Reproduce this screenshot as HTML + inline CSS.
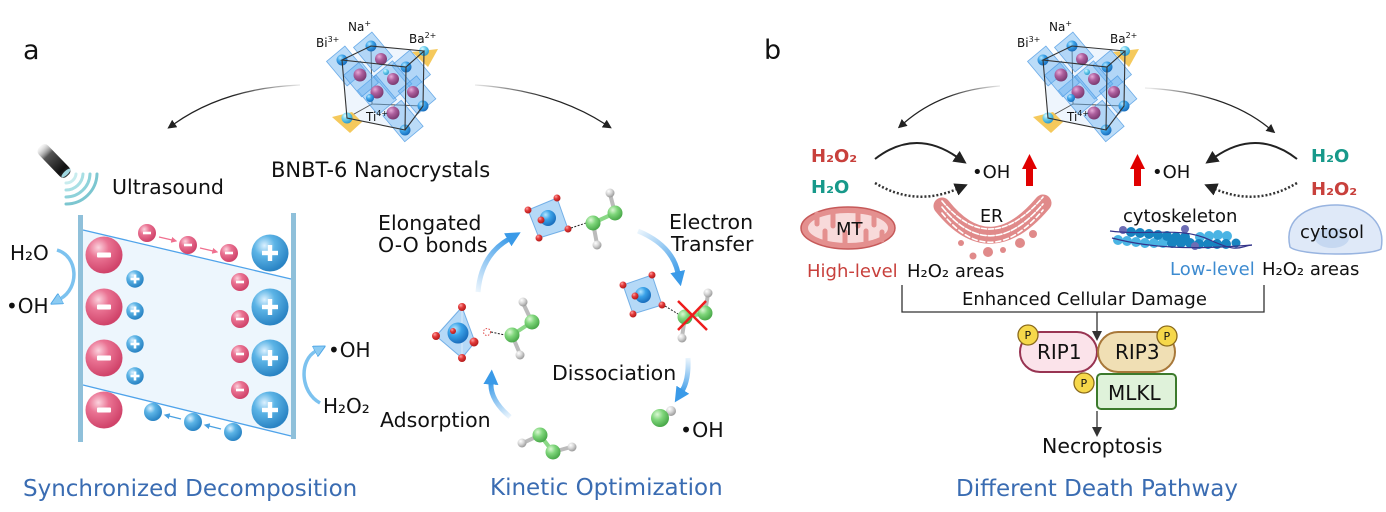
<!DOCTYPE html>
<html><head><meta charset="utf-8">
<style>
html,body{margin:0;padding:0;background:#fff;}
svg{display:block;}
text{font-family:"DejaVu Sans","Liberation Sans",sans-serif;fill:#111;}
</style></head><body>
<svg width="1386" height="512" viewBox="0 0 1386 512" xmlns="http://www.w3.org/2000/svg">
<defs>
 <radialGradient id="gR" cx="35%" cy="30%" r="70%"><stop offset="0" stop-color="#fbd3de"/><stop offset="0.4" stop-color="#ea7393"/><stop offset="1" stop-color="#d0436a"/></radialGradient>
 <radialGradient id="gB" cx="35%" cy="30%" r="70%"><stop offset="0" stop-color="#dcf1ff"/><stop offset="0.4" stop-color="#5cb4e6"/><stop offset="1" stop-color="#2a84c4"/></radialGradient>
 <radialGradient id="gG" cx="35%" cy="30%" r="70%"><stop offset="0" stop-color="#dbf7d4"/><stop offset="0.45" stop-color="#7fd67b"/><stop offset="1" stop-color="#4aa94a"/></radialGradient>
 <radialGradient id="gW" cx="35%" cy="30%" r="70%"><stop offset="0" stop-color="#ffffff"/><stop offset="0.5" stop-color="#d6d6d6"/><stop offset="1" stop-color="#9c9c9c"/></radialGradient>
 <radialGradient id="gO" cx="35%" cy="30%" r="70%"><stop offset="0" stop-color="#ffa0a0"/><stop offset="0.45" stop-color="#e23a3a"/><stop offset="1" stop-color="#b41c1c"/></radialGradient>
 <radialGradient id="gP" cx="35%" cy="30%" r="70%"><stop offset="0" stop-color="#e6aad8"/><stop offset="0.45" stop-color="#ad5f9d"/><stop offset="1" stop-color="#7c3b72"/></radialGradient>
 <radialGradient id="gC" cx="35%" cy="30%" r="70%"><stop offset="0" stop-color="#b4e6ff"/><stop offset="0.45" stop-color="#3aa2e8"/><stop offset="1" stop-color="#1a6fbe"/></radialGradient>
 <radialGradient id="gCy" cx="35%" cy="30%" r="70%"><stop offset="0" stop-color="#e0fbff"/><stop offset="0.45" stop-color="#6fd0ee"/><stop offset="1" stop-color="#2e9ccc"/></radialGradient>
 <linearGradient id="probe" x1="0" y1="0" x2="1" y2="0"><stop offset="0" stop-color="#d8d8d8" stop-opacity="0.2"/><stop offset="0.3" stop-color="#555"/><stop offset="0.8" stop-color="#111"/><stop offset="1" stop-color="#333"/></linearGradient>

 <linearGradient id="la1" gradientUnits="userSpaceOnUse" x1="300" y1="85" x2="170" y2="128"><stop offset="0" stop-color="#222" stop-opacity="0.1"/><stop offset="0.5" stop-color="#222"/></linearGradient>
 <linearGradient id="la2" gradientUnits="userSpaceOnUse" x1="475" y1="85" x2="612" y2="128"><stop offset="0" stop-color="#222" stop-opacity="0.1"/><stop offset="0.5" stop-color="#222"/></linearGradient>
 <linearGradient id="lb1" gradientUnits="userSpaceOnUse" x1="1000" y1="85" x2="898" y2="128"><stop offset="0" stop-color="#222" stop-opacity="0.1"/><stop offset="0.5" stop-color="#222"/></linearGradient>
 <linearGradient id="lb2" gradientUnits="userSpaceOnUse" x1="1150" y1="88" x2="1275" y2="133"><stop offset="0" stop-color="#222" stop-opacity="0.1"/><stop offset="0.5" stop-color="#222"/></linearGradient>

 <linearGradient id="ba1" gradientUnits="userSpaceOnUse" x1="478" y1="292" x2="511" y2="238"><stop offset="0" stop-color="#3a9ae8" stop-opacity="0.1"/><stop offset="1" stop-color="#3a9ae8"/></linearGradient>
 <linearGradient id="ba2" gradientUnits="userSpaceOnUse" x1="638" y1="231" x2="679" y2="275"><stop offset="0" stop-color="#3a9ae8" stop-opacity="0.1"/><stop offset="1" stop-color="#3a9ae8"/></linearGradient>
 <linearGradient id="ba3" gradientUnits="userSpaceOnUse" x1="688" y1="358" x2="680" y2="393"><stop offset="0" stop-color="#3a9ae8" stop-opacity="0.1"/><stop offset="1" stop-color="#3a9ae8"/></linearGradient>
 <linearGradient id="ba4" gradientUnits="userSpaceOnUse" x1="510" y1="417" x2="491" y2="382"><stop offset="0" stop-color="#3a9ae8" stop-opacity="0.1"/><stop offset="1" stop-color="#3a9ae8"/></linearGradient>

 <marker id="mk" viewBox="0 0 10 10" refX="1" refY="5" markerWidth="9" markerHeight="9" orient="auto" markerUnits="userSpaceOnUse"><path d="M0,0L10,5L0,10z" fill="#222"/></marker>
 <marker id="mkb" viewBox="0 0 10 10" refX="1" refY="5" markerWidth="13" markerHeight="13" orient="auto" markerUnits="userSpaceOnUse"><path d="M0,0L10,5L0,10z" fill="#222"/></marker>
 <marker id="mkd" viewBox="0 0 10 10" refX="1" refY="5" markerWidth="10" markerHeight="10" orient="auto" markerUnits="userSpaceOnUse"><path d="M0,0L10,5L0,10z" fill="#333"/></marker>
 <marker id="mkB" viewBox="0 0 10 10" refX="1" refY="5" markerWidth="15" markerHeight="15" orient="auto" markerUnits="userSpaceOnUse"><path d="M0,0L10,5L0,10z" fill="#3a9ae8"/></marker>
 <marker id="mkL" viewBox="0 0 10 10" refX="1" refY="5" markerWidth="12" markerHeight="12" orient="auto" markerUnits="userSpaceOnUse"><path d="M0,0L10,5L0,10z" fill="#8ccbf2" stroke="#4ea6e6" stroke-width="0.8"/></marker>
 <marker id="mkp" viewBox="0 0 10 10" refX="1" refY="5" markerWidth="6" markerHeight="6" orient="auto" markerUnits="userSpaceOnUse"><path d="M0,0L10,5L0,10z" fill="#f0708f"/></marker>
 <marker id="mks" viewBox="0 0 10 10" refX="1" refY="5" markerWidth="6" markerHeight="6" orient="auto" markerUnits="userSpaceOnUse"><path d="M0,0L10,5L0,10z" fill="#4aa0e0"/></marker>

 <g id="cr">
  <polygon points="342,60 371,46 424,51 423,106 405,130 347,118" fill="#eaf3fc" opacity="0.8"/>
  <g stroke="#555" stroke-width="1" fill="none">
   <polyline points="371,46 372,104 423,106"/>
   <line x1="372" y1="104" x2="347" y2="118"/>
  </g>
  <g fill="rgba(105,178,240,0.45)" stroke="rgba(70,150,225,0.75)" stroke-width="0.8">
   <rect x="-12" y="-16" width="24" height="32" transform="translate(346,66) rotate(-40)"/>
   <rect x="-12" y="-16" width="24" height="32" transform="translate(373,52) rotate(-40)"/>
   <rect x="-12" y="-16" width="24" height="32" transform="translate(411,70) rotate(-40)"/>
   <rect x="-12" y="-15" width="24" height="30" transform="translate(393,80) rotate(-40)"/>
   <rect x="-12" y="-16" width="24" height="32" transform="translate(377,95) rotate(-40)"/>
   <rect x="-12" y="-15" width="24" height="30" transform="translate(417,95) rotate(-40)"/>
   <rect x="-12" y="-17" width="24" height="34" transform="translate(403,121) rotate(-40)"/>
   <rect x="-11" y="-14" width="22" height="28" transform="translate(361,79) rotate(-40)"/>
  </g>
  <g fill="url(#gP)">
   <circle cx="381" cy="59" r="6"/><circle cx="360" cy="75" r="6.5"/><circle cx="393" cy="79" r="6"/>
   <circle cx="377" cy="92" r="6.5"/><circle cx="413" cy="92" r="6"/><circle cx="393" cy="113" r="6.5"/>
  </g>
  <polygon points="412,52 438,49 428,67" fill="#f4c34a" opacity="0.9"/>
  <polygon points="332,117 352,112 362,122 350,133" fill="#f4c34a" opacity="0.9"/>
  <g fill="url(#gC)">
   <circle cx="342" cy="60" r="5.5"/><circle cx="371" cy="46" r="5.5"/><circle cx="406" cy="67" r="5.5"/>
   <circle cx="405" cy="130" r="5.5"/><circle cx="423" cy="106" r="5.5"/><circle cx="370" cy="98" r="4"/>
  </g>
  <circle cx="386" cy="72" r="3" fill="url(#gCy)"/>
  <circle cx="424" cy="51" r="5" fill="url(#gCy)"/>
  <circle cx="347" cy="118" r="5.5" fill="url(#gCy)"/>
  <g stroke="#333" stroke-width="1.1" fill="none">
   <polygon points="342,60 371,46 424,51 406,67"/>
   <polyline points="342,60 347,118 405,130 406,67"/>
   <polyline points="405,130 423,106 424,51"/>
  </g>
 </g>
</defs>

<!-- ================= PANEL A ================= -->
<text x="23" y="59" font-size="27">a</text>

<use href="#cr"/>
<text x="316" y="47" font-size="12">Bi<tspan font-size="8" dy="-5">3+</tspan></text>
<text x="348" y="31" font-size="12">Na<tspan font-size="8" dy="-5">+</tspan></text>
<text x="409" y="43" font-size="12">Ba<tspan font-size="8" dy="-5">2+</tspan></text>
<text x="366" y="121" font-size="12">Ti<tspan font-size="8" dy="-5">4+</tspan></text>

<path d="M300,85 Q225,88 174,124" fill="none" stroke="url(#la1)" stroke-width="1.3" marker-end="url(#mk)"/>
<path d="M475,85 Q552,90 605,124" fill="none" stroke="url(#la2)" stroke-width="1.3" marker-end="url(#mk)"/>

<text x="271" y="177" font-size="21">BNBT-6 Nanocrystals</text>

<!-- ultrasound probe -->
<rect x="-20" y="-6.5" width="40" height="13" rx="5" fill="url(#probe)" transform="translate(54,161) rotate(46)"/>
<ellipse cx="66" cy="173" rx="2" ry="6" fill="#9fd6e0" transform="rotate(46 66 173)"/>
<g fill="none" stroke-width="3" stroke-linecap="round">
 <path d="M76,174 A10,10 0 0,1 66,183" stroke="#c8ecee"/>
 <path d="M83,174 A17,17 0 0,1 66,190" stroke="#a8dfe4"/>
 <path d="M90,174 A24,24 0 0,1 66,197" stroke="#8ed2da"/>
 <path d="M97,174 A31,31 0 0,1 66,204" stroke="#7cc6d0"/>
</g>
<text x="112" y="194" font-size="20.5">Ultrasound</text>

<!-- membrane -->
<polygon points="83,230 291,279 291,436 83,385" fill="#edf6fd"/>
<line x1="83" y1="230" x2="291" y2="279" stroke="#4fa3ea" stroke-width="1.3"/>
<line x1="83" y1="385" x2="291" y2="436" stroke="#4fa3ea" stroke-width="1.3"/>
<rect x="78" y="215" width="5" height="227" fill="#8fc0da"/>
<rect x="291" y="213" width="5" height="226" fill="#8fc0da"/>

<g fill="url(#gR)">
 <circle cx="104" cy="255" r="18.5"/><circle cx="104" cy="307" r="18.5"/><circle cx="104" cy="358" r="18.5"/><circle cx="104" cy="410" r="18.5"/>
 <circle cx="240" cy="282" r="9"/><circle cx="240" cy="319" r="9"/><circle cx="240" cy="354" r="9"/><circle cx="240" cy="390" r="9"/>
 <circle cx="147" cy="233" r="9"/><circle cx="188" cy="245" r="9"/><circle cx="229" cy="253" r="9"/>
</g>
<g fill="url(#gB)">
 <circle cx="270" cy="253" r="18.5"/><circle cx="270" cy="307" r="18.5"/><circle cx="270" cy="358" r="18.5"/><circle cx="270" cy="410" r="18.5"/>
 <circle cx="135" cy="279" r="8.7"/><circle cx="135" cy="311" r="8.7"/><circle cx="135" cy="344" r="8.7"/><circle cx="135" cy="376" r="8.7"/>
 <circle cx="153" cy="412" r="9"/><circle cx="193" cy="422" r="9"/><circle cx="233" cy="432" r="9"/>
</g>
<g fill="#fff">
 <rect x="97" y="252.5" width="14" height="5" rx="1"/><rect x="97" y="304.5" width="14" height="5" rx="1"/><rect x="97" y="355.5" width="14" height="5" rx="1"/><rect x="97" y="407.5" width="14" height="5" rx="1"/>
 <rect x="236" y="280.7" width="8" height="2.6"/><rect x="236" y="317.7" width="8" height="2.6"/><rect x="236" y="352.7" width="8" height="2.6"/><rect x="236" y="388.7" width="8" height="2.6"/>
 <rect x="143" y="231.7" width="8" height="2.6"/><rect x="184" y="243.7" width="8" height="2.6"/><rect x="225" y="251.7" width="8" height="2.6"/>
 <rect x="262" y="250.8" width="16" height="4.4"/><rect x="267.8" y="245" width="4.4" height="16"/>
 <rect x="262" y="304.8" width="16" height="4.4"/><rect x="267.8" y="299" width="4.4" height="16"/>
 <rect x="262" y="355.8" width="16" height="4.4"/><rect x="267.8" y="350" width="4.4" height="16"/>
 <rect x="262" y="407.8" width="16" height="4.4"/><rect x="267.8" y="402" width="4.4" height="16"/>
 <rect x="130.5" y="277.7" width="9" height="2.6"/><rect x="133.7" y="274.5" width="2.6" height="9"/>
 <rect x="130.5" y="309.7" width="9" height="2.6"/><rect x="133.7" y="306.5" width="2.6" height="9"/>
 <rect x="130.5" y="342.7" width="9" height="2.6"/><rect x="133.7" y="339.5" width="2.6" height="9"/>
 <rect x="130.5" y="374.7" width="9" height="2.6"/><rect x="133.7" y="371.5" width="2.6" height="9"/>
</g>
<line x1="159" y1="237" x2="172" y2="240" stroke="#f0708f" stroke-width="1.2" marker-end="url(#mkp)"/>
<line x1="200" y1="248" x2="213" y2="251" stroke="#f0708f" stroke-width="1.2" marker-end="url(#mkp)"/>
<line x1="181" y1="419" x2="169" y2="416" stroke="#4aa0e0" stroke-width="1.2" marker-end="url(#mks)"/>
<line x1="221" y1="429" x2="209" y2="426" stroke="#4aa0e0" stroke-width="1.2" marker-end="url(#mks)"/>

<text x="10" y="260" font-size="20">H₂O</text>
<text x="6" y="313" font-size="20">•OH</text>
<path d="M57,250 C78,256 80,288 60,299" fill="none" stroke="#7cc2ef" stroke-width="3.5" marker-end="url(#mkL)"/>
<text x="328" y="357" font-size="20">•OH</text>
<text x="323" y="413" font-size="20">H₂O₂</text>
<path d="M320,403 C300,392 299,360 316,351" fill="none" stroke="#7cc2ef" stroke-width="3.5" marker-end="url(#mkL)"/>

<text x="23" y="496" font-size="23" style="fill:#3a6cb2">Synchronized Decomposition</text>

<!-- kinetic cycle -->
<text x="378" y="230" font-size="20.5">Elongated</text>
<text x="378" y="252" font-size="20.5">O-O bonds</text>
<text x="669" y="229" font-size="20.5">Electron</text>
<text x="671" y="251" font-size="20.5">Transfer</text>
<text x="552" y="380" font-size="20.5">Dissociation</text>
<text x="380" y="427" font-size="20.5">Adsorption</text>
<text x="680" y="437" font-size="20.5">•OH</text>

<path d="M478,292 Q481,255 509,239" fill="none" stroke="url(#ba1)" stroke-width="5" marker-end="url(#mkB)"/>
<path d="M638,231 Q672,245 678,273" fill="none" stroke="url(#ba2)" stroke-width="5" marker-end="url(#mkB)"/>
<path d="M688,358 Q689,380 682,391" fill="none" stroke="url(#ba3)" stroke-width="5" marker-end="url(#mkB)"/>
<path d="M510,417 Q490,400 491,383" fill="none" stroke="url(#ba4)" stroke-width="5" marker-end="url(#mkB)"/>

<!-- left octahedron + H2O2 -->
<polygon points="462,307 436,336 462,358 475,342" fill="rgba(120,185,240,0.55)" stroke="rgba(90,160,225,0.8)"/>
<line x1="462" y1="307" x2="462" y2="358" stroke="rgba(255,255,255,0.5)"/>
<circle cx="458" cy="333" r="10.5" fill="url(#gC)"/>
<g fill="url(#gO)"><circle cx="462" cy="307" r="4"/><circle cx="436" cy="336" r="4"/><circle cx="462" cy="358" r="4"/><circle cx="474" cy="342" r="4.5"/><circle cx="453" cy="331" r="3"/></g>
<circle cx="487" cy="332" r="3.5" fill="none" stroke="#e05050" stroke-width="1" stroke-dasharray="1.5 1.5"/>
<line x1="491" y1="332" x2="505" y2="335" stroke="#222" stroke-width="1" stroke-dasharray="2 1.5"/>
<g stroke-width="4" stroke-linecap="round"><line x1="512" y1="335" x2="532" y2="322" stroke="#8ad886"/><line x1="532" y1="322" x2="523" y2="303" stroke="#bbb"/><line x1="512" y1="335" x2="520" y2="354" stroke="#bbb"/></g>
<circle cx="523" cy="302" r="4.5" fill="url(#gW)"/><circle cx="520" cy="355" r="4.5" fill="url(#gW)"/>
<circle cx="512" cy="335" r="7.5" fill="url(#gG)"/><circle cx="532" cy="322" r="7.5" fill="url(#gG)"/>

<!-- top octahedron -->
<polygon points="557,198 528,210 539,238 568,229" fill="rgba(120,185,240,0.55)" stroke="rgba(90,160,225,0.8)"/>
<circle cx="548" cy="218" r="8" fill="url(#gC)"/>
<g fill="url(#gO)"><circle cx="557" cy="198" r="3.5"/><circle cx="528" cy="210" r="3.5"/><circle cx="539" cy="238" r="3.5"/><circle cx="568" cy="229" r="3.5"/><circle cx="541" cy="220" r="3.5"/></g>
<line x1="571" y1="228" x2="586" y2="223" stroke="#222" stroke-width="1" stroke-dasharray="2 1.5"/>
<g stroke-width="4" stroke-linecap="round"><line x1="593" y1="223" x2="615" y2="213" stroke="#8ad886"/><line x1="615" y1="213" x2="610" y2="194" stroke="#bbb"/><line x1="593" y1="223" x2="597" y2="244" stroke="#bbb"/></g>
<circle cx="610" cy="193" r="4.5" fill="url(#gW)"/><circle cx="597" cy="245" r="4.5" fill="url(#gW)"/>
<circle cx="593" cy="223" r="7.5" fill="url(#gG)"/><circle cx="615" cy="213" r="7.5" fill="url(#gG)"/>

<!-- right octahedron -->
<polygon points="652,275 623,285 633,314 662,305" fill="rgba(120,185,240,0.55)" stroke="rgba(90,160,225,0.8)"/>
<circle cx="643" cy="295" r="8" fill="url(#gC)"/>
<g fill="url(#gO)"><circle cx="652" cy="275" r="3.5"/><circle cx="623" cy="285" r="3.5"/><circle cx="633" cy="314" r="3.5"/><circle cx="662" cy="305" r="3.5"/><circle cx="635" cy="296" r="3.5"/></g>
<line x1="665" y1="306" x2="678" y2="314" stroke="#222" stroke-width="1" stroke-dasharray="2 1.5"/>
<g stroke-width="4" stroke-linecap="round"><line x1="685" y1="317" x2="705" y2="313" stroke="#8ad886"/><line x1="705" y1="313" x2="708" y2="294" stroke="#bbb"/><line x1="685" y1="317" x2="682" y2="337" stroke="#bbb"/></g>
<circle cx="708" cy="293" r="4.5" fill="url(#gW)"/><circle cx="682" cy="338" r="4.5" fill="url(#gW)"/>
<circle cx="685" cy="317" r="7.5" fill="url(#gG)"/><circle cx="705" cy="313" r="7.5" fill="url(#gG)"/>
<g stroke="#ee1c1c" stroke-width="2.5"><line x1="678" y1="301" x2="707" y2="330"/><line x1="706" y1="301" x2="678" y2="330"/></g>

<!-- bottom molecule -->
<g stroke-width="4" stroke-linecap="round"><line x1="540" y1="435" x2="553" y2="452" stroke="#8ad886"/><line x1="540" y1="435" x2="523" y2="443" stroke="#bbb"/><line x1="553" y1="452" x2="571" y2="447" stroke="#bbb"/></g>
<circle cx="522" cy="443" r="4.5" fill="url(#gW)"/><circle cx="572" cy="447" r="4.5" fill="url(#gW)"/>
<circle cx="540" cy="435" r="7.5" fill="url(#gG)"/><circle cx="553" cy="452" r="7.5" fill="url(#gG)"/>

<!-- dissociated OH -->
<circle cx="671" cy="411" r="5" fill="url(#gW)"/>
<circle cx="660" cy="418" r="9" fill="url(#gG)"/>

<text x="490" y="495" font-size="23" style="fill:#3a6cb2">Kinetic Optimization</text>

<!-- ================= PANEL B ================= -->
<text x="764" y="59" font-size="27">b</text>

<use href="#cr" transform="translate(701,0)"/>
<text x="1017" y="47" font-size="12">Bi<tspan font-size="8" dy="-5">3+</tspan></text>
<text x="1049" y="31" font-size="12">Na<tspan font-size="8" dy="-5">+</tspan></text>
<text x="1110" y="43" font-size="12">Ba<tspan font-size="8" dy="-5">2+</tspan></text>
<text x="1067" y="121" font-size="12">Ti<tspan font-size="8" dy="-5">4+</tspan></text>

<path d="M1000,86 Q942,90 904,123" fill="none" stroke="url(#lb1)" stroke-width="1.3" marker-end="url(#mk)"/>
<path d="M1145,88 Q1225,92 1269,128" fill="none" stroke="url(#lb2)" stroke-width="1.3" marker-end="url(#mk)"/>

<!-- left side -->
<text x="811" y="162" font-size="18" font-weight="bold" style="fill:#c8403c">H₂O₂</text>
<text x="811" y="193" font-size="18" font-weight="bold" style="fill:#17998a">H₂O</text>
<path d="M875,159 Q915,128 957,157" fill="none" stroke="#222" stroke-width="2" marker-end="url(#mkb)"/>
<path d="M875,183 Q915,207 957,189" fill="none" stroke="#333" stroke-width="2.5" stroke-dasharray="2 2" marker-end="url(#mkb)"/>
<text x="972" y="178" font-size="18">•OH</text>
<polygon points="1026,186 1026,169 1022,169 1029.5,154 1037,169 1033,169 1033,186" fill="#e00000"/>

<!-- mitochondrion -->
<ellipse cx="848" cy="228" rx="47" ry="21" fill="#e4908f" stroke="#c65a5a" stroke-width="1.5"/>
<ellipse cx="848" cy="228" rx="40" ry="15" fill="#f8dada"/>
<g stroke="#e4908f" stroke-width="5" stroke-linecap="round">
 <line x1="817" y1="214" x2="817" y2="224"/><line x1="833" y1="213" x2="833" y2="226"/><line x1="858" y1="213" x2="858" y2="226"/><line x1="874" y1="214" x2="874" y2="225"/>
 <line x1="825" y1="243" x2="825" y2="231"/><line x1="845" y1="243" x2="845" y2="232"/><line x1="866" y1="243" x2="866" y2="231"/><line x1="882" y1="240" x2="882" y2="232"/>
</g>
<text x="836" y="235" font-size="18">MT</text>

<!-- ER -->
<g fill="none" stroke-linecap="round">
 <path d="M942,206 Q990,266 1043,203" stroke="#e08a8a" stroke-width="17"/>
 <path d="M942,201 Q990,259 1043,197" stroke="#fff" stroke-width="1.6" stroke-dasharray="5 2"/>
 <path d="M942,207 Q990,266 1043,204" stroke="#fff" stroke-width="1.6" stroke-dasharray="6 2"/>
 <path d="M942,213 Q990,273 1043,210" stroke="#fff" stroke-width="1.6" stroke-dasharray="5 3"/>
</g>
<g fill="#e08a8a"><circle cx="973" cy="256" r="3.5"/><circle cx="988" cy="252" r="5"/><circle cx="1020" cy="243" r="5"/><circle cx="1033" cy="234" r="4"/><circle cx="961" cy="243" r="3"/><circle cx="1003" cy="250" r="3"/></g>
<text x="980" y="222" font-size="17.5">ER</text>

<text x="807" y="277" font-size="18" style="fill:#c8403c">High-level</text>
<text x="907" y="277" font-size="18">H₂O₂ areas</text>

<!-- right side -->
<text x="1311" y="162" font-size="18" font-weight="bold" style="fill:#17998a">H₂O</text>
<text x="1311" y="195" font-size="18" font-weight="bold" style="fill:#c8403c">H₂O₂</text>
<path d="M1297,159 Q1257,128 1215,157" fill="none" stroke="#222" stroke-width="2" marker-end="url(#mkb)"/>
<path d="M1297,183 Q1257,207 1215,189" fill="none" stroke="#333" stroke-width="2.5" stroke-dasharray="2 2" marker-end="url(#mkb)"/>
<text x="1152" y="178" font-size="18">•OH</text>
<polygon points="1134,186 1134,169 1130,169 1137.5,154 1145,169 1141,169 1141,186" fill="#e00000"/>

<text x="1123" y="222" font-size="18">cytoskeleton</text>
<!-- cytoskeleton beads -->
<g>
 <g fill="#4ab4e4">
  <circle cx="1118" cy="240" r="5"/><circle cx="1127" cy="241" r="5"/><circle cx="1136" cy="242" r="5"/><circle cx="1145" cy="243" r="5"/><circle cx="1154" cy="243" r="5"/><circle cx="1163" cy="243" r="5"/><circle cx="1200" cy="237" r="5"/><circle cx="1209" cy="236" r="5"/><circle cx="1218" cy="235" r="5"/><circle cx="1227" cy="236" r="5"/>
 </g>
 <g fill="#1784c0">
  <circle cx="1131" cy="232" r="5"/><circle cx="1140" cy="233" r="5"/><circle cx="1149" cy="234" r="5"/><circle cx="1158" cy="235" r="5"/><circle cx="1167" cy="236" r="5"/><circle cx="1176" cy="237" r="5"/><circle cx="1172" cy="243" r="5"/><circle cx="1181" cy="243" r="5"/><circle cx="1190" cy="243" r="5"/><circle cx="1199" cy="244" r="5"/><circle cx="1208" cy="244" r="5"/><circle cx="1217" cy="244" r="5"/><circle cx="1226" cy="244" r="5"/><circle cx="1236" cy="243" r="4.5"/><circle cx="1185" cy="237" r="5"/>
 </g>
 <g fill="#6d6db4"><circle cx="1123" cy="230" r="4"/><circle cx="1185" cy="229" r="4"/><circle cx="1195" cy="246" r="4"/></g>
 <path d="M1110,231 C1150,236 1180,226 1210,240 S1240,246 1252,245" fill="none" stroke="#34348a" stroke-width="1.2"/>
 <path d="M1112,238 C1150,248 1190,250 1252,245" fill="none" stroke="#34348a" stroke-width="1.2"/>
</g>

<!-- cytosol -->
<path d="M1290,247 C1283,216 1312,204 1338,205 C1368,206 1386,224 1381,249 C1370,256 1300,256 1290,247 Z" fill="#dfe9f8" stroke="#98b4e0" stroke-width="1.5"/>
<ellipse cx="1332" cy="238" rx="17" ry="10" fill="#c6d8f1"/>
<text x="1300" y="238" font-size="18">cytosol</text>

<text x="1170" y="275" font-size="18" style="fill:#3d8bd0">Low-level</text>
<text x="1262" y="275" font-size="18">H₂O₂ areas</text>

<!-- pathway -->
<polyline points="902,285 902,312 1264,312 1264,285" fill="none" stroke="#333" stroke-width="1.3"/>
<text x="962" y="305" font-size="18">Enhanced Cellular Damage</text>
<line x1="1097" y1="312" x2="1097" y2="332" stroke="#333" stroke-width="1.3" marker-end="url(#mkd)"/>

<rect x="1020" y="332" width="77" height="40" rx="20" fill="#fbe3ea" stroke="#983452" stroke-width="2"/>
<rect x="1098" y="332" width="77" height="40" rx="20" fill="#f0dfb4" stroke="#a8783a" stroke-width="2"/>
<rect x="1097" y="374" width="79" height="35" rx="4" fill="#dff2da" stroke="#3c7a2c" stroke-width="2"/>
<text x="1037" y="359" font-size="20">RIP1</text>
<text x="1115" y="359" font-size="20">RIP3</text>
<text x="1108" y="400" font-size="20">MLKL</text>
<g fill="#f6d84a" stroke="#8a6a1c" stroke-width="1.3">
 <circle cx="1028" cy="335" r="10"/><circle cx="1167" cy="336" r="10"/><circle cx="1084" cy="383" r="10"/>
</g>
<text x="1024.5" y="339" font-size="11">P</text>
<text x="1163.5" y="340" font-size="11">P</text>
<text x="1080.5" y="387" font-size="11">P</text>
<line x1="1097" y1="411" x2="1097" y2="428" stroke="#333" stroke-width="1.3" marker-end="url(#mkd)"/>
<text x="1042" y="453" font-size="20.5">Necroptosis</text>

<text x="956" y="496" font-size="23" style="fill:#3a6cb2">Different Death Pathway</text>
</svg>
</body></html>
